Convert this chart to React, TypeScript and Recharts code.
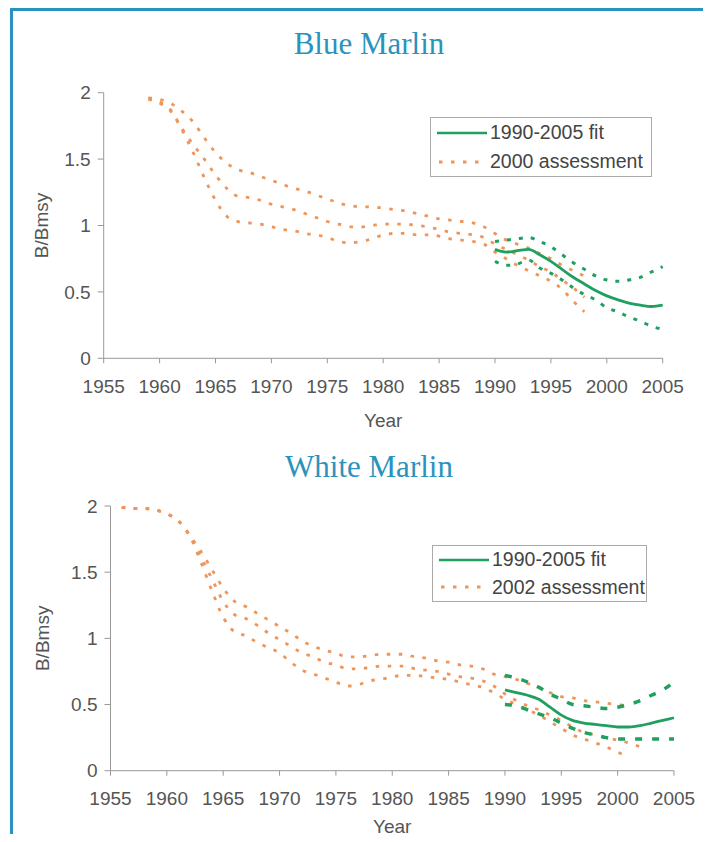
import { LineChart, Line, XAxis, YAxis, Legend } from "recharts"

const TEAL = "#2a93bd"
const ORANGE = "#ee955a"
const GREEN = "#1f9f60"
const FONT = "'Liberation Sans', Arial, sans-serif"

const yearTicks = [1955, 1960, 1965, 1970, 1975, 1980, 1985, 1990, 1995, 2000, 2005]
const yTicks = [0, 0.5, 1, 1.5, 2]

// Blue Marlin - 2000 assessment, yearly from 1959
const blueStart = 1959
const blueUpper = [
  1.96, 1.95, 1.92, 1.86, 1.78, 1.66, 1.55, 1.47, 1.42, 1.4, 1.37, 1.34, 1.31, 1.28, 1.26, 1.23, 1.2, 1.17, 1.15, 1.14,
  1.14, 1.13, 1.12, 1.11, 1.09, 1.07, 1.05, 1.04, 1.03, 1.02, 0.99, 0.94, 0.89, 0.86, 0.83, 0.79, 0.75, 0.7, 0.66, 0.62,
]
const blueMid = [
  1.96, 1.93, 1.87, 1.73, 1.61, 1.5, 1.38, 1.28, 1.22, 1.21, 1.19, 1.16, 1.14, 1.12, 1.09, 1.06, 1.03, 1.01, 0.99, 0.99,
  1.0, 1.01, 1.01, 1.01, 1.0, 0.99, 0.97, 0.95, 0.94, 0.93, 0.91, 0.86, 0.82, 0.78, 0.74, 0.69, 0.65, 0.59, 0.53, 0.46,
]
const blueLower = [
  1.95, 1.92, 1.86, 1.72, 1.55, 1.36, 1.19, 1.07, 1.03, 1.02, 1.01, 0.99, 0.97, 0.96, 0.94, 0.93, 0.91, 0.88, 0.87, 0.88,
  0.9, 0.93, 0.94, 0.94, 0.93, 0.93, 0.92, 0.9, 0.89, 0.88, 0.86, 0.8, 0.75, 0.7, 0.66, 0.62, 0.58, 0.52, 0.43, 0.35,
]

// 1990-2005 fit, yearly from 1990
const fitStart = 1990
const blueFit = [0.82, 0.8, 0.81, 0.82, 0.78, 0.73, 0.67, 0.61, 0.56, 0.51, 0.47, 0.44, 0.415, 0.4, 0.39, 0.4]
const blueFitHigh = [0.88, 0.89, 0.9, 0.91, 0.88, 0.84, 0.78, 0.72, 0.67, 0.62, 0.59, 0.58, 0.59, 0.61, 0.65, 0.69]
const blueFitLow = [0.73, 0.7, 0.71, 0.74, 0.68, 0.64, 0.59, 0.53, 0.48, 0.44, 0.38, 0.35, 0.31, 0.28, 0.24, 0.22]

// White Marlin - 2002 assessment, yearly from 1956
const whiteStart = 1956
const whiteUpper = [
  1.99, 1.98, 1.98, 1.97, 1.94, 1.89, 1.78, 1.66, 1.52, 1.38, 1.28, 1.24, 1.19, 1.14, 1.09, 1.04, 0.98, 0.94, 0.91, 0.89,
  0.86, 0.86, 0.87, 0.88, 0.88, 0.88, 0.86, 0.85, 0.83, 0.82, 0.8, 0.79, 0.77, 0.73, 0.71, 0.69, 0.66, 0.63, 0.59, 0.56,
  0.55, 0.53, 0.52, 0.51, 0.5, 0.49,
]
const whiteMid = [
  1.99, 1.98, 1.98, 1.97, 1.94, 1.89, 1.78, 1.62, 1.45, 1.28, 1.18, 1.15, 1.1, 1.04, 0.99, 0.94, 0.89, 0.86, 0.82, 0.8,
  0.77, 0.77, 0.78, 0.79, 0.79, 0.79, 0.77, 0.76, 0.75, 0.73, 0.71, 0.7, 0.68, 0.64, 0.58, 0.53, 0.49, 0.46, 0.42, 0.38,
  0.33, 0.29, 0.27, 0.25, 0.23, 0.21, 0.18,
]
const whiteLower = [
  1.99, 1.98, 1.98, 1.97, 1.94, 1.89, 1.78, 1.58, 1.36, 1.16, 1.05, 1.02, 0.97, 0.93, 0.89, 0.82, 0.76, 0.73, 0.7, 0.67,
  0.64, 0.65, 0.68, 0.69, 0.71, 0.72, 0.72, 0.71, 0.7, 0.69, 0.67, 0.65, 0.63, 0.59, 0.54, 0.5, 0.46, 0.42, 0.37, 0.32,
  0.27, 0.24, 0.21, 0.18, 0.14, 0.1,
]
const whiteFit = [0.61, 0.59, 0.57, 0.54, 0.48, 0.42, 0.38, 0.36, 0.35, 0.34, 0.33, 0.33, 0.34, 0.36, 0.38, 0.4]
const whiteFitHigh = [0.72, 0.7, 0.67, 0.63, 0.58, 0.54, 0.5, 0.49, 0.48, 0.47, 0.48, 0.5, 0.53, 0.57, 0.61, 0.67]
const whiteFitLow = [0.5, 0.49, 0.46, 0.43, 0.4, 0.36, 0.32, 0.29, 0.27, 0.25, 0.24, 0.24, 0.24, 0.24, 0.24, 0.24]

const toPoints = (start: number, vals: number[]) => vals.map((v, i) => ({ year: start + i, v }))

function LegendBox({ label, width, height }: { label: string; width: number; height: number }) {
  const row = { display: "flex", alignItems: "center", height: height / 2 - 1 }
  return (
    <div
      style={{
        width,
        height,
        boxSizing: "border-box",
        border: "1px solid #aaa",
        background: "#fff",
        paddingLeft: 6,
        fontFamily: FONT,
        fontSize: 19.5,
        color: "#444",
        whiteSpace: "nowrap",
      }}
    >
      <div style={row}>
        <svg width={50} height={10}>
          <line x1={0} y1={5} x2={50} y2={5} stroke={GREEN} strokeWidth={2.5} />
        </svg>
        <span style={{ marginLeft: 3 }}>1990-2005 fit</span>
      </div>
      <div style={row}>
        <svg width={50} height={10}>
          <line x1={2} y1={5} x2={50} y2={5} stroke={ORANGE} strokeWidth={2.8} strokeDasharray="3.5 8.5" />
        </svg>
        <span style={{ marginLeft: 3 }}>{label}</span>
      </div>
    </div>
  )
}

type ChartProps = {
  height: number
  margin: { top: number; right: number; bottom: number; left: number }
  yWidth: number
  xHeight: number
  labelDx: number
  yearOffset: number
  start: number
  bands: number[][]
  fit: number[]
  fitHigh: number[]
  fitLow: number[]
  greenDash: string
  greenWidth: number
  legendLabel: string
  legendBox: { left: number; top: number; width: number; height: number }
}

function StockChart(p: ChartProps) {
  const tickStyle = { fill: "#555", fontSize: 19, fontFamily: FONT }
  return (
    <LineChart width={690} height={p.height} margin={p.margin}>
      <XAxis
        dataKey="year"
        type="number"
        domain={[1955, 2005]}
        ticks={yearTicks}
        axisLine={{ stroke: "#999" }}
        tickLine={{ stroke: "#999" }}
        tickSize={5}
        tickMargin={16}
        tick={tickStyle}
        height={p.xHeight}
        label={{ value: "Year", position: "insideBottom", offset: p.yearOffset, ...tickStyle }}
      />
      <YAxis
        type="number"
        domain={[0, 2]}
        ticks={yTicks}
        width={p.yWidth}
        axisLine={{ stroke: "#999" }}
        tickLine={{ stroke: "#999" }}
        tickSize={6}
        tickMargin={7}
        tick={tickStyle}
        label={{ value: "B/Bmsy", angle: -90, position: "center", dx: p.labelDx, ...tickStyle }}
      />
      <Legend
        layout="vertical"
        align="center"
        verticalAlign="middle"
        wrapperStyle={{ left: p.legendBox.left, top: p.legendBox.top, width: "auto" }}
        content={() => <LegendBox label={p.legendLabel} width={p.legendBox.width} height={p.legendBox.height} />}
      />
      {p.bands.map((vals, i) => (
        <Line
          key={`band-${i}`}
          data={toPoints(p.start, vals)}
          dataKey="v"
          type="monotone"
          stroke={ORANGE}
          strokeWidth={2.8}
          strokeDasharray="3.5 8.5"
          dot={false}
          isAnimationActive={false}
        />
      ))}
      <Line
        data={toPoints(fitStart, p.fitHigh)}
        dataKey="v"
        type="monotone"
        stroke={GREEN}
        strokeWidth={p.greenWidth}
        strokeDasharray={p.greenDash}
        dot={false}
        isAnimationActive={false}
      />
      <Line
        data={toPoints(fitStart, p.fitLow)}
        dataKey="v"
        type="monotone"
        stroke={GREEN}
        strokeWidth={p.greenWidth}
        strokeDasharray={p.greenDash}
        dot={false}
        isAnimationActive={false}
      />
      <Line
        data={toPoints(fitStart, p.fit)}
        dataKey="v"
        type="monotone"
        stroke={GREEN}
        strokeWidth={2.8}
        dot={false}
        isAnimationActive={false}
      />
    </LineChart>
  )
}

const titleStyle = {
  position: "absolute" as const,
  left: 59,
  width: 600,
  textAlign: "center" as const,
  fontFamily: "'Liberation Serif', 'DejaVu Serif', serif",
  fontSize: 31,
  lineHeight: "31px",
  color: TEAL,
}

export default function App() {
  // outer box stays in flow at 826px tall so the page is exactly 842px high;
  // the teal frame and the lower chart run on to the bottom edge
  return (
    <div style={{ position: "relative", marginLeft: 2, width: 698, height: 826 }}>
      <div
        style={{
          position: "absolute",
          left: 0,
          top: 0,
          width: 692,
          height: 831,
          border: `3px solid ${TEAL}`,
          borderBottom: "none",
        }}
      />
      <div style={{ ...titleStyle, top: 20 }}>Blue Marlin</div>
      <div style={{ position: "absolute", left: 3, top: 63 }}>
        <StockChart
          height={367.3}
          margin={{ top: 21.7, right: 40.3, bottom: 0, left: 0 }}
          yWidth={90.7}
          xHeight={80}
          labelDx={-17}
          yearOffset={11}
          start={blueStart}
          bands={[blueUpper, blueMid, blueLower]}
          fit={blueFit}
          fitHigh={blueFitHigh}
          fitLow={blueFitLow}
          greenDash="4 8"
          greenWidth={3}
          legendLabel="2000 assessment"
          legendBox={{ left: 417, top: 46, width: 222, height: 60 }}
        />
      </div>
      <div style={{ ...titleStyle, top: 443 }}>White Marlin</div>
      <div style={{ position: "absolute", left: 3, top: 472 }}>
        <StockChart
          height={362}
          margin={{ top: 26, right: 29, bottom: 0, left: 0 }}
          yWidth={97.5}
          xHeight={71.3}
          labelDx={-19}
          yearOffset={9}
          start={whiteStart}
          bands={[whiteUpper, whiteMid, whiteLower]}
          fit={whiteFit}
          fitHigh={whiteFitHigh}
          fitLow={whiteFitLow}
          greenDash="7 10"
          greenWidth={3.5}
          legendLabel="2002 assessment"
          legendBox={{ left: 419, top: 65, width: 215, height: 57 }}
        />
      </div>
    </div>
  )
}
